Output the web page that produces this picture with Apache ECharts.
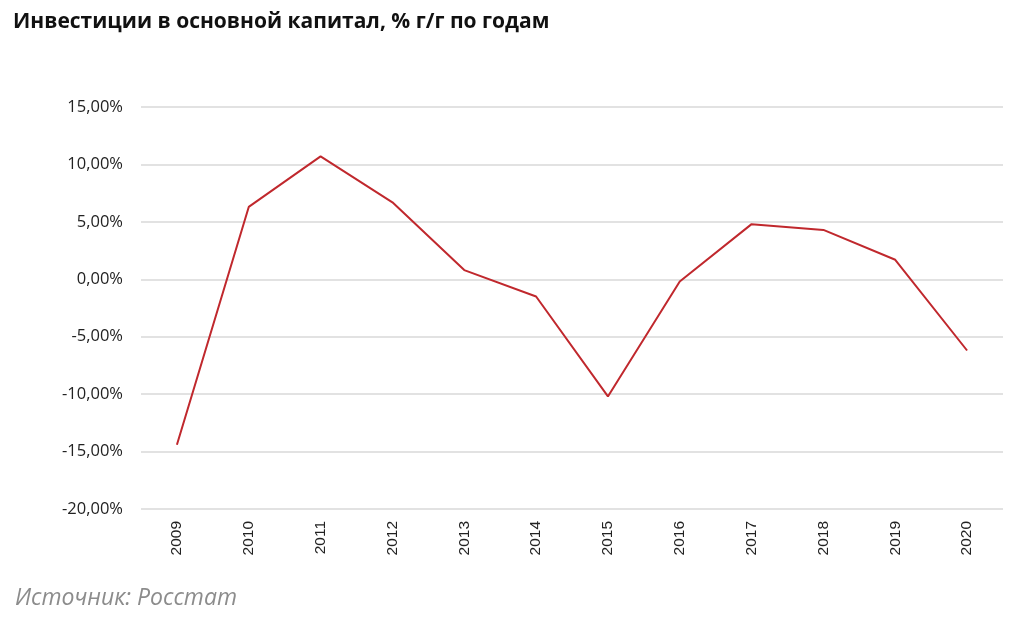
<!DOCTYPE html>
<html lang="ru">
<head>
  <meta charset="UTF-8">
  <title>Инвестиции в основной капитал</title>
  <style>
    html,body{margin:0;padding:0;background:#fff;}
    #main{width:1024px;height:620px;}
  </style>
</head>
<body>
  <div id="main"></div>
  <script src="https://cdn.jsdelivr.net/npm/echarts@6/dist/echarts.min.js"></script>
  <script>
    const years=['2009','2010','2011','2012','2013','2014','2015','2016','2017','2018','2019','2020'];
    // % г/г
    const values=[-14.4,6.3,10.7,6.7,0.8,-1.5,-10.2,-0.2,4.8,4.3,1.7,-6.2];

    const chart=echarts.init(document.querySelector('#main'));
    const option={
      title:[
        {
          text:'Инвестиции в основной капитал, % г/г по годам',
          left:8, top:7,
          textStyle:{fontFamily:'Open Sans',fontWeight:'bold',fontSize:21,color:'#111'}
        },
        {
          text:'Источник: Росстат',
          left:10, top:582,
          textStyle:{fontFamily:'Open Sans',fontStyle:'italic',fontWeight:'normal',fontSize:23,color:'#8c8c8c'}
        }
      ],
      grid:{left:141,right:21,top:107,bottom:111},
      xAxis:{
        type:'category',
        data:years,
        boundaryGap:true,
        axisLine:{show:false},
        axisTick:{show:false},
        axisLabel:{
          rotate:90,
          margin:12,
          fontFamily:'Liberation Sans',
          fontSize:15.5,
          color:'#222'
        }
      },
      yAxis:{
        type:'value',
        min:-20,
        max:15,
        interval:5,
        axisLine:{show:false},
        axisTick:{show:false},
        splitLine:{lineStyle:{color:'#d9d9d9',width:1.5}},
        axisLabel:{
          margin:18,
          fontFamily:'Open Sans',
          fontSize:16.5,
          color:'#222',
          formatter:v=>v.toFixed(2).replace('.',',')+'%'
        }
      },
      series:[
        {
          type:'line',
          data:values,
          symbol:'none',
          lineStyle:{color:'#c0282d',width:2},
          itemStyle:{color:'#c0282d'},
          z:5
        }
      ]
    };
    chart.setOption(option);
  </script>
</body>
</html>
